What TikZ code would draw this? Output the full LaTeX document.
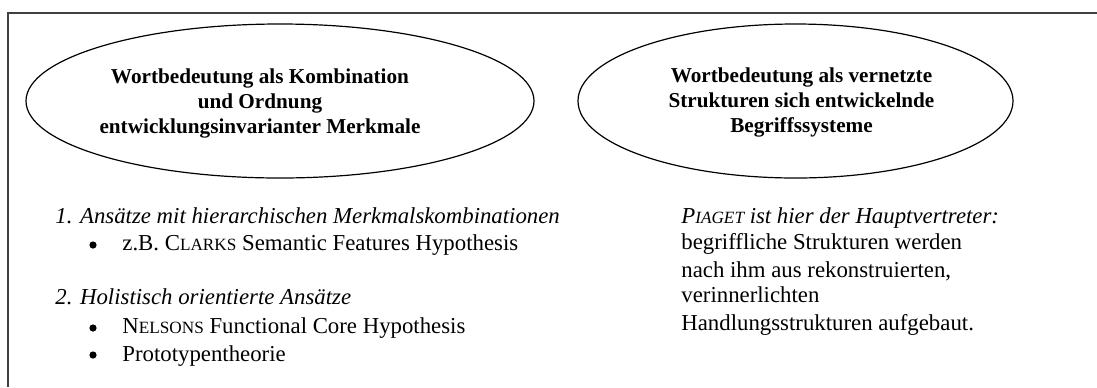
\documentclass[tikz,border=0pt]{standalone}
\usepackage{fontspec}
\setmainfont{Liberation Serif}
\usetikzlibrary{shapes.geometric}
\newcommand\fsc[2]{#1{\fontsize{8.6}{9}\selectfont #2}}
\tikzset{
  ell/.style={draw, ellipse, line width=0.6pt, inner sep=0pt},
  etext/.style={align=center, font=\fontsize{10.6}{12.5}\selectfont\bfseries, inner sep=0pt},
  txt/.style={anchor=base west, inner sep=0pt, font=\fontsize{11.4}{13}\selectfont},
  itxt/.style={txt, font=\fontsize{11.4}{13}\selectfont\itshape},
  bul/.style={circle, fill, inner sep=0pt, minimum size=3.6pt}
}
\begin{document}
\begin{tikzpicture}[x=0.5pt,y=-0.5pt]
\useasboundingbox (0,0) rectangle (1097,387);
\draw[line width=0.8pt, black!75] (1097,13) -- (8,13) -- (8,387);
% ellipses
\node[ell, minimum width=254pt, minimum height=77pt] (e1) at (280,101) {};
\node[etext] (t1) at (260,103) {Wortbedeutung als Kombination\\und Ordnung\\entwicklungsinvarianter Merkmale};
\node[ell, minimum width=217.5pt, minimum height=77pt] (e2) at (795.5,101) {};
\node[etext] (t2) at (801.5,102) {Wortbedeutung als vernetzte\\Strukturen sich entwickelnde\\Begriffssysteme};
% left list
\node[itxt] (l1) at (55,223) {1. Ansätze mit hierarchischen Merkmalskombinationen};
\node[bul] (b1) at (93,245) {};
\node[txt] (l1a) at (122,250) {z.B. \fsc{C}{LARKS} Semantic Features Hypothesis};
\node[itxt] (l2) at (55,304) {2. Holistisch orientierte Ansätze};
\node[bul] (b2) at (93,328) {};
\node[txt] (l2a) at (122,333) {\fsc{N}{ELSONS} Functional Core Hypothesis};
\node[bul] (b3) at (93,355) {};
\node[txt] (l2b) at (122,361) {Prototypentheorie};
% right text
\node[itxt] (r1) at (681,223) {\fsc{P}{IAGET} ist hier der Hauptvertreter:};
\node[txt] (r2) at (681,249) {begriffliche Strukturen werden};
\node[txt] (r3) at (681,277) {nach ihm aus rekonstruierten,};
\node[txt] (r4) at (681,302) {verinnerlichten};
\node[txt] (r5) at (681,330) {Handlungsstrukturen aufgebaut.};
\end{tikzpicture}
\end{document}
